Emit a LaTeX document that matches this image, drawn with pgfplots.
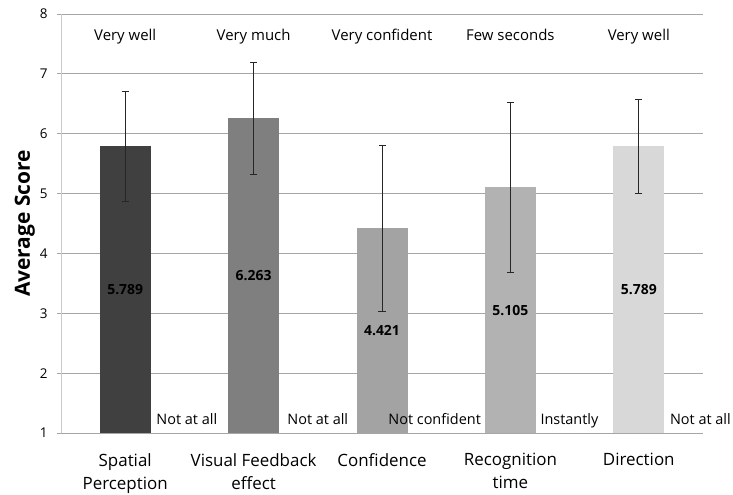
\documentclass[border=0pt]{standalone}
\usepackage{pgfplots}
\pgfplotsset{compat=1.18}
\usepackage{fontspec}
\setmainfont{Open Sans}
\definecolor{b1}{HTML}{404040}
\definecolor{b2}{HTML}{7F7F7F}
\definecolor{b3}{HTML}{A3A3A3}
\definecolor{b4}{HTML}{B2B2B2}
\definecolor{b5}{HTML}{D8D8D8}
\definecolor{gridc}{HTML}{A6A6A6}
\begin{document}
\begin{tikzpicture}
\begin{axis}[
  scale only axis, width=642bp, height=419bp,
  xmin=-0.5, xmax=4.5, ymin=1, ymax=8,
  ytick={1,2,...,8},
  xtick={0,1,2,3,4},
  xticklabels={{Spatial\\Perception},{Visual Feedback\\effect},Confidence,{Recognition\\time},Direction},
  xticklabel style={align=center, font=\fontsize{17}{23}\selectfont, anchor=north, yshift=-13bp},
  yticklabel style={font=\fontsize{13.5}{15}\selectfont, xshift=-6bp},
  /pgf/number format/assume math mode=true,
  ymajorgrids, grid style={color=gridc, line width=0.8pt},
  axis x line*=bottom,
  axis y line*=left,
  x axis line style={draw=none},
  y axis line style={draw=gridc!60, line width=0.6pt, -},
  tick align=outside, major tick length=4bp,
  ytick style={draw=gridc, line width=0.8pt},
  xtick style={draw=none},
  ylabel={\textbf{Average Score}},
  ylabel style={font=\fontsize{21}{24}\selectfont, yshift=-2bp},
  clip mode=individual,
]
\addplot[ybar, bar width=51bp, bar shift=0pt, fill=b1, draw=none,
  error bars/.cd, y dir=both, y explicit,
  error bar style={line width=0.7pt, black!85}, error mark options={rotate=90, mark size=3.5bp, line width=0.7pt, black!85}]
  coordinates {(0,5.789) +- (0,0.92)};
\addplot[ybar, bar width=51bp, bar shift=0pt, fill=b2, draw=none,
  error bars/.cd, y dir=both, y explicit,
  error bar style={line width=0.7pt, black!85}, error mark options={rotate=90, mark size=3.5bp, line width=0.7pt, black!85}]
  coordinates {(1,6.263) +- (0,0.935)};
\addplot[ybar, bar width=51bp, bar shift=0pt, fill=b3, draw=none,
  error bars/.cd, y dir=both, y explicit,
  error bar style={line width=0.7pt, black!85}, error mark options={rotate=90, mark size=3.5bp, line width=0.7pt, black!85}]
  coordinates {(2,4.421) +- (0,1.39)};
\addplot[ybar, bar width=51bp, bar shift=0pt, fill=b4, draw=none,
  error bars/.cd, y dir=both, y explicit,
  error bar style={line width=0.7pt, black!85}, error mark options={rotate=90, mark size=3.5bp, line width=0.7pt, black!85}]
  coordinates {(3,5.105) +- (0,1.415)};
\addplot[ybar, bar width=51bp, bar shift=0pt, fill=b5, draw=none,
  error bars/.cd, y dir=both, y explicit,
  error bar style={line width=0.7pt, black!85}, error mark options={rotate=90, mark size=3.5bp, line width=0.7pt, black!85}]
  coordinates {(4,5.789) +- (0,0.79)};
% value labels at the middle of each bar
\addplot[draw=none, mark=none, nodes near coords, point meta=explicit symbolic,
  every node near coord/.append style={anchor=center, font=\bfseries\fontsize{14}{16}\selectfont}]
  coordinates {(0,3.3945)[5.789] (1,3.6315)[6.263] (2,2.7105)[4.421] (3,3.0525)[5.105] (4,3.3945)[5.789]};
% scale anchors
\begin{scope}[every node/.style={font=\fontsize{15}{17}\selectfont, anchor=base}]
\node at (axis cs:0,7.555) {Very well};
\node at (axis cs:1,7.555) {Very much};
\node at (axis cs:2,7.555) {Very confident};
\node at (axis cs:3,7.555) {Few seconds};
\node at (axis cs:4,7.555) {Very well};
\end{scope}
\begin{scope}[every node/.style={font=\fontsize{14.5}{17}\selectfont, anchor=base}]
\node at (axis cs:0.48,1.14) {Not at all};
\node at (axis cs:1.5,1.14) {Not at all};
\node at (axis cs:2.41,1.14) {Not confident};
\node at (axis cs:3.46,1.14) {Instantly};
\node at (axis cs:4.48,1.14) {Not at all};
\end{scope}
\end{axis}
\pgfresetboundingbox
\path (-61bp,-62bp) rectangle (672bp,433bp);
\end{tikzpicture}
\end{document}
